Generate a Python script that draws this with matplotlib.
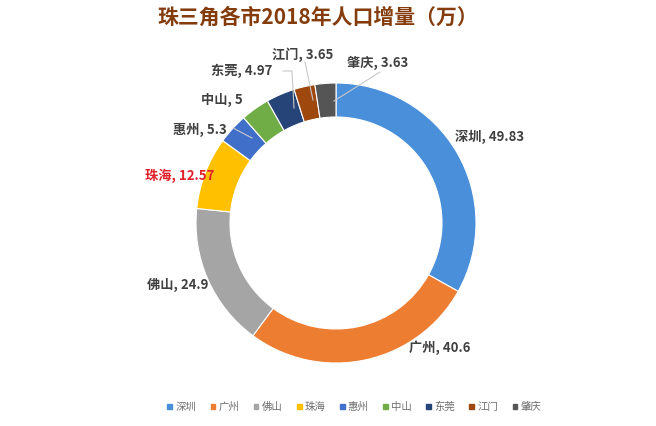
import matplotlib
matplotlib.use('Agg')
import matplotlib.pyplot as plt

plt.rcParams['font.family'] = ['Noto Sans CJK SC', 'DejaVu Sans']

# data
cities = ['深圳', '广州', '佛山', '珠海', '惠州', '中山', '东莞', '江门', '肇庆']
growth = [49.83, 40.6, 24.9, 12.57, 5.3, 5, 4.97, 3.65, 3.63]
colors = ['#4A8FDA', '#ED7D31', '#A5A5A5', '#FFC000', '#3F6FC9',
          '#70AD47', '#264478', '#9E480E', '#555555']

# label text positions in pixel space (x, y from top)
label_pos = [(490, 137), (440, 348), (178, 285), (180, 176), (200, 130),
             (222, 100), (242, 71), (303, 55), (378, 63)]
# leader lines for the small slices: (text end, point on ring)
leaders = {4: [(233, 128), (252, 138)],
           6: [(283, 71), (292, 71), (294, 108)],
           7: [(305, 62), (313, 100)],
           8: [(380, 72), (334, 101)]}

W, H = 656, 426
fig = plt.figure(figsize=(W / 100, H / 100), dpi=100)
ax = fig.add_axes([0, 0, 1, 1])

cx, cy, r = 336, H - 223, 140
ax.pie(growth, colors=colors, radius=r, center=(cx, cy), startangle=90,
       counterclock=False, frame=True,
       wedgeprops=dict(width=34, edgecolor='white', linewidth=0.8))
ax.set_xlim(0, W)
ax.set_ylim(0, H)
ax.set_aspect('equal')
ax.axis('off')

for i, (name, val) in enumerate(zip(cities, growth)):
    x, y = label_pos[i]
    col = '#E0202A' if name == '珠海' else '#404040'
    ax.text(x, H - y, f'{name}, {val:g}', ha='center', va='center',
            fontsize=9.5, fontweight='bold', color=col)

for i, pts in leaders.items():
    ax.plot([p[0] for p in pts], [H - p[1] for p in pts],
            color='#C8C8C8', lw=0.8)

fig.text(0.485, 1 - 17 / H, '珠三角各市2018年人口增量（万）', ha='center',
         va='center', fontsize=15, fontweight='bold', color='#843C0C')

# legend
handles = [plt.Rectangle((0, 0), 1, 1, color=c) for c in colors]
leg = fig.legend(handles, cities, loc='center', bbox_to_anchor=(0.54, 1 - 407 / H),
                 ncol=9, frameon=False, fontsize=7.5, handlelength=0.45,
                 handleheight=0.45, handletextpad=0.3, columnspacing=1.4)
for t in leg.get_texts():
    t.set_color('#6E6E6E')

fig.savefig('out.png', dpi=100)
